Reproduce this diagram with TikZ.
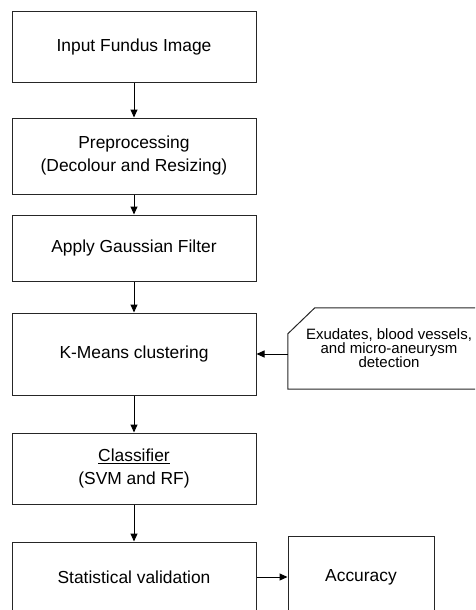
\documentclass[tikz,border=0pt]{standalone}
\usepackage{fontspec}
\setmainfont{Liberation Sans}
\usetikzlibrary{arrows.meta}

\begin{document}
\begin{tikzpicture}[x=1pt,y=1pt]
            \tikzstyle{every node}+=[inner sep=0pt, font=\fontsize{17.4}{23}\selectfont]
            \tikzstyle{stepbox}=[draw=black!85, line width=1pt, rectangle, minimum width=244pt, align=center]
            \tikzstyle{flow}=[draw=black, line width=1pt, -{Triangle[length=8pt,width=7pt]}]
            \useasboundingbox (0,0) rectangle (475,-610);
            \clip (0,0) rectangle (475,-610);
            \node [stepbox, minimum height=70pt] (input) at (134,-47) {Input Fundus Image};
            \node [stepbox, minimum height=76pt] (prep) at (134,-156) {Preprocessing\\(Decolour and Resizing)};
            \node [stepbox, minimum height=66pt] (gauss) at (134,-248) {Apply Gaussian Filter};
            \node [stepbox, minimum height=82pt] (kmeans) at (134,-354) {K-Means clustering};
            \node [stepbox, minimum height=71pt] (classif) at (134,-468.5) {\underline{Classifier}\\(SVM and RF)};
            \node [stepbox, minimum height=70pt] (stat) at (134,-577) {Statistical validation};
            \node [stepbox, minimum width=146pt, minimum height=82pt] (acc) at (361,-577) {Accuracy};
            \node [minimum width=202pt, minimum height=81pt, align=center,
                   font=\fontsize{15}{14}\selectfont] (exud) at (389,-348.5)
                  {Exudates, blood vessels,\\and micro-aneurysm\\detection};
            \draw [draw=black!85, line width=1pt] ([yshift=-26pt]exud.north west) -- ([xshift=27pt]exud.north west)
                  -- (exud.north east) -- (exud.south east) -- (exud.south west) -- cycle;
            \draw [flow] (input) -- (prep);
            \draw [flow] (prep) -- (gauss);
            \draw [flow] (gauss) -- (kmeans);
            \draw [flow] (kmeans) -- (classif);
            \draw [flow] (classif) -- (stat);
            \draw [flow] (stat) -- (acc);
            \draw [flow] (exud.west |- kmeans.east) -- (kmeans.east);
        \end{tikzpicture}
\end{document}
